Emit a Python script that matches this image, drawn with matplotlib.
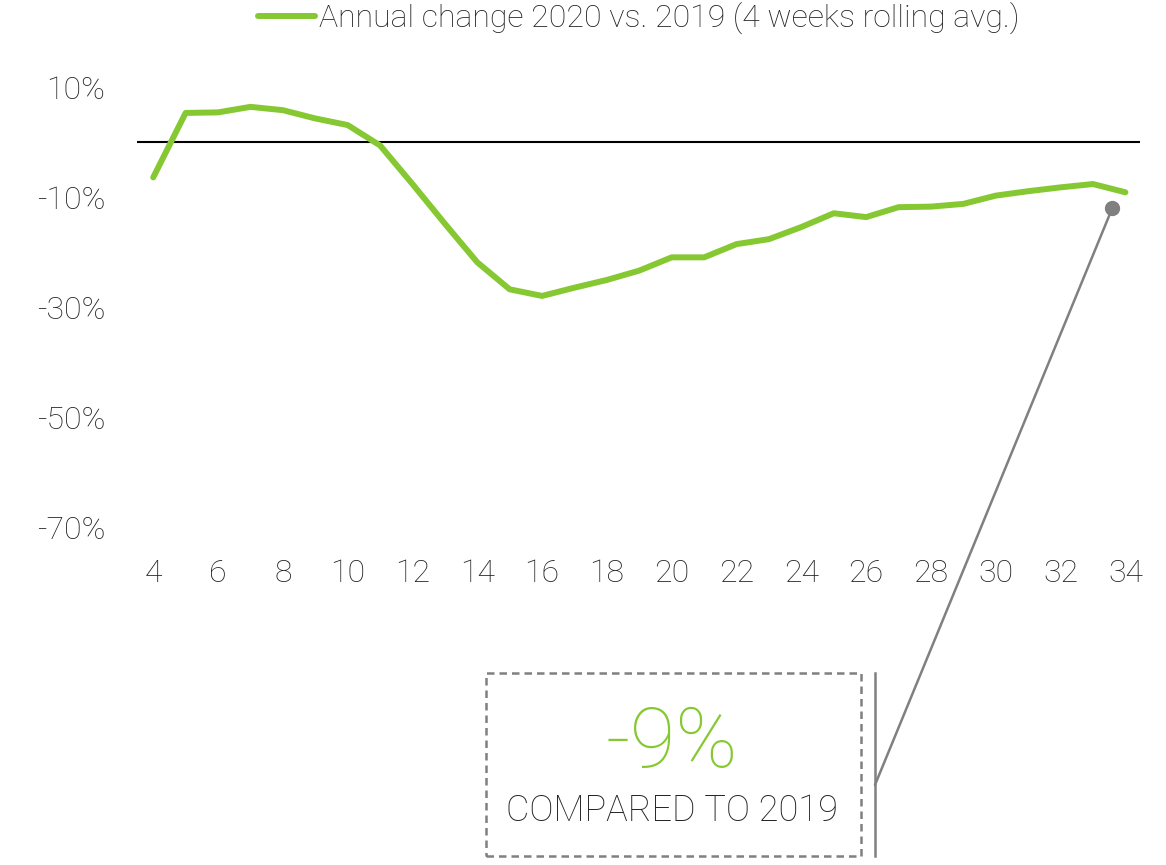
import numpy as np
import matplotlib
matplotlib.use("Agg")
from matplotlib import pyplot as plt
from matplotlib.lines import Line2D
from matplotlib.patches import Rectangle

plt.rcParams['font.family'] = ['Roboto', 'DejaVu Sans']

# weekly data, annual change 2020 vs 2019 in percent
weeks = list(range(4, 35))
change = [-6.4, 5.3, 5.4, 6.4, 5.8, 4.3, 3.1, -0.6, -7.6, -14.8, -21.8,
          -26.7, -27.9, -26.4, -25.0, -23.3, -20.9, -20.9, -18.5, -17.6, -15.4,
          -12.9, -13.6, -11.8, -11.7, -11.2, -9.7, -8.9, -8.2, -7.6, -9.1]
y_ticks = [10, -10, -30, -50, -70]
x_ticks = list(range(4, 35, 2))
callout_week, callout_value = 33.6, -11.9
callout_text = "-9%"
callout_sub = "COMPARED TO 2019"

green = "#86c832"
gray = "#808080"
txt = "#222222"

fig = plt.figure(figsize=(11.66, 8.65), dpi=100)
ax = fig.add_axes([0.1175, 0.3896, 0.8602, 0.5098])

ax.plot(weeks, change, color=green, lw=4.3, solid_joinstyle='round',
        solid_capstyle='round', label="Annual change 2020 vs. 2019 (4 weeks rolling avg.)")
ax.axhline(0, color="black", lw=1.5, zorder=1)

ax.set_xlim(3.5, 34.45)
ax.set_ylim(-70, 10)
ax.set_yticks(y_ticks)
ax.set_yticklabels([f"{v}%" for v in y_ticks])
ax.set_xticks(x_ticks)
for s in ax.spines.values():
    s.set_visible(False)
ax.tick_params(length=0, labelsize=23, labelcolor=txt)
ax.tick_params(axis='x', pad=22)
ax.tick_params(axis='y', pad=23)
for lab in ax.get_xticklabels() + ax.get_yticklabels():
    lab.set_fontweight('light')

leg = ax.legend(loc='lower center', bbox_to_anchor=(0.5, 1.055), frameon=False,
                handlelength=1.8, handletextpad=0.1,
                prop={'size': 23, 'weight': 'light'})
for t in leg.get_texts():
    t.set_color(txt)

# callout
ax.plot([callout_week], [callout_value], 'o', color=gray, ms=10, clip_on=False, zorder=5)
ax.annotate("", xy=(callout_week, callout_value), xycoords='data',
            xytext=(0.7504, 0.0925), textcoords='figure fraction',
            arrowprops=dict(arrowstyle='-', color=gray, lw=1.8,
                            shrinkA=0, shrinkB=0))
fig.add_artist(Line2D([0.7504, 0.7504], [0.0104, 0.2220], color=gray, lw=1.8))
fig.add_artist(Rectangle((0.4168, 0.0104), 0.3216, 0.2116, fill=False,
                         edgecolor=gray, lw=1.8, linestyle=(0, (3, 2))))
fig.text(0.5763, 0.1399, callout_text, color=green, fontsize=60, fontweight='light',
         ha='center', va='center')
fig.text(0.5763, 0.0624, callout_sub, color=txt, fontsize=26, fontweight='light',
         ha='center', va='center')

plt.savefig("out.png", dpi=100)
